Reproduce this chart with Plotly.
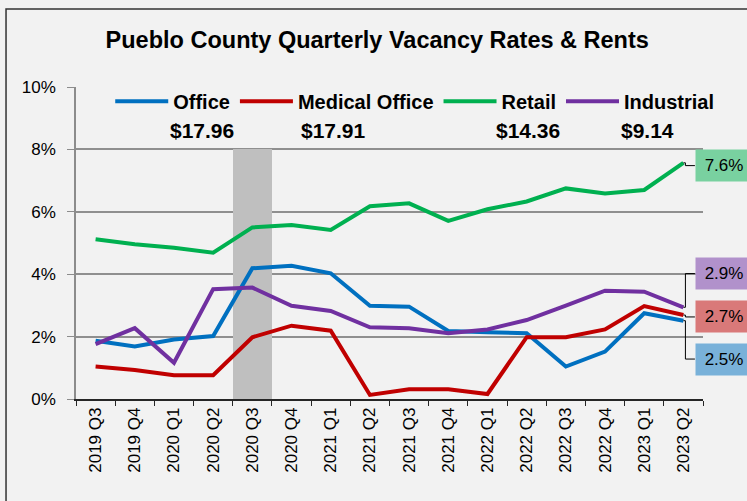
import plotly.graph_objects as go

quarters = ["2019 Q3", "2019 Q4", "2020 Q1", "2020 Q2", "2020 Q3", "2020 Q4",
            "2021 Q1", "2021 Q2", "2021 Q3", "2021 Q4", "2022 Q1", "2022 Q2",
            "2022 Q3", "2022 Q4", "2023 Q1", "2023 Q2"]

office = [1.87, 1.68, 1.91, 2.02, 4.19, 4.27, 4.03, 2.99, 2.96, 2.18, 2.14, 2.11, 1.04, 1.52, 2.75, 2.51]
medical_office = [1.04, 0.93, 0.76, 0.76, 1.98, 2.35, 2.19, 0.13, 0.31, 0.31, 0.16, 1.98, 1.98, 2.23, 2.98, 2.69]
retail = [5.12, 4.96, 4.85, 4.69, 5.50, 5.58, 5.42, 6.18, 6.27, 5.71, 6.08, 6.33, 6.75, 6.59, 6.70, 7.57]
industrial = [1.76, 2.27, 1.16, 3.52, 3.57, 2.99, 2.82, 2.30, 2.27, 2.11, 2.23, 2.53, 2.99, 3.47, 3.44, 2.94]

rents = ["$17.96", "$17.91", "$14.36", "$9.14"]

shaded_quarter = ["2020 Q3"]
shaded_top = [8]

# name, values, line colour, label box colour, label box centre (y, %)
series = [
    ("Office", office, "#0070C0", "#79b1d9", 1.28),
    ("Medical Office", medical_office, "#C00000", "#d97979", 2.63),
    ("Retail", retail, "#00B050", "#79d1a0", 7.48),
    ("Industrial", industrial, "#7030A0", "#b191cb", 4.02),
]
rent_x = [0.201, 0.411, 0.721, 0.911]

fig = go.Figure()

fig.add_trace(go.Bar(x=shaded_quarter, y=shaded_top, width=1,
                     marker=dict(color="#bfbfbf", line_width=0),
                     showlegend=False, hoverinfo="skip"))

for name, vals, color, _, _ in series:
    fig.add_trace(go.Scatter(x=quarters, y=vals, name=name, mode="lines",
                             line=dict(color=color, width=4)))

last = len(quarters) - 1
for name, vals, color, box, ly in series:
    v = vals[-1]
    fig.add_shape(type="path", xref="x", yref="y", xsizemode="pixel", xanchor=last,
                  path=f"M0,{v} L2,{v} L2,{ly} L11.5,{ly}",
                  line=dict(color="black", width=1))
    fig.add_annotation(x=last, y=ly, xref="x", yref="y", xanchor="left", xshift=11.5,
                       text=f"{v:.1f}%", showarrow=False, bgcolor=box,
                       width=56, height=31, borderpad=0,
                       font=dict(family="Liberation Sans", size=17, color="black"))

for rx, r in zip(rent_x, rents):
    fig.add_annotation(x=rx, y=0.859, xref="paper", yref="paper",
                       xanchor="center", yanchor="middle",
                       text=r, showarrow=False,
                       font=dict(family="Liberation Sans", size=21, color="black", weight="bold"))

# outer chart border
fig.add_shape(type="rect", xref="paper", yref="paper", x0=-0.1116, x1=1.1, y0=-0.4, y1=1.25,
              line=dict(color="#333333", width=1.5), layer="above")

fig.update_layout(
    width=747, height=501,
    margin=dict(l=76, r=44, t=87, b=102),
    paper_bgcolor="#f2f2f2", plot_bgcolor="#f2f2f2",
    bargap=0,
    title=dict(text="<b>Pueblo County Quarterly Vacancy Rates & Rents</b>",
               x=0.505, xanchor="center", y=0.92, yanchor="middle",
               font=dict(family="Liberation Sans", size=23.5, color="black")),
    legend=dict(orientation="h", x=0.0546, xanchor="left", y=1.017, yanchor="top",
                bgcolor="#f2f2f2", itemwidth=53,
                font=dict(family="Liberation Sans", size=20, color="black", weight="bold")),
    xaxis=dict(type="category", categoryorder="array", categoryarray=quarters,
               range=[-0.5, len(quarters) - 0.5],
               tickson="boundaries", ticks="outside", ticklen=5, tickcolor="#262626",
               showline=True, linecolor="#262626", linewidth=1.5,
               showgrid=False, tickangle=-90,
               tickfont=dict(family="Liberation Sans", size=17, color="black")),
    yaxis=dict(range=[0, 10], dtick=2, ticksuffix="%",
               ticks="outside", ticklen=7, tickcolor="#8c8c8c",
               showline=True, linecolor="#8c8c8c", linewidth=1.5,
               showgrid=True, gridcolor="#8f8f8f", gridwidth=1.5,
               zeroline=False, ticklabelstandoff=8,
               tickfont=dict(family="Liberation Sans", size=17, color="black")),
    hovermode=False,
)

fig.write_html("out.html", config={"displayModeBar": False},
               post_script="document.body.style.margin='0px';")
